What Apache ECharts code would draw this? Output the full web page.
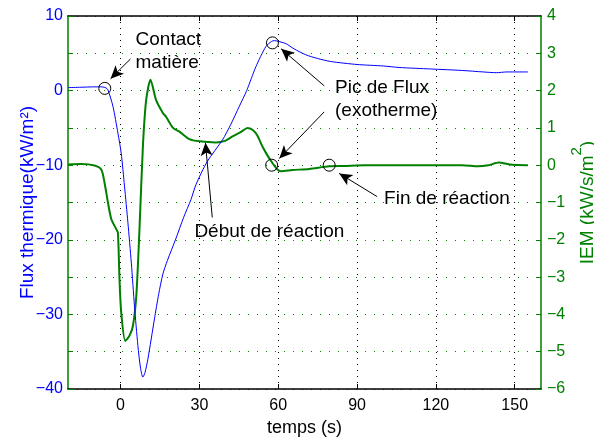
<!DOCTYPE html>
<html>
<head>
<meta charset="utf-8">
<script src="https://cdn.jsdelivr.net/npm/echarts@6/dist/echarts.min.js"></script>
<style>
  html, body { margin: 0; padding: 0; background: #fff; }
  #chart { width: 594px; height: 440px; }
</style>
</head>
<body>
<div id="chart"></div>
<script>
// flux thermique (left axis, kW/m2)
var fluxT = [-20, -15, -10, -7, -5.5, -4.8, -2.9, -1.0, 0.25, 1.5, 2.8, 4.1, 5.3, 6.6, 7.6, 8.5, 9.3, 10.4, 12.9, 14.5, 16.1, 17.8, 21, 24, 26.8, 28.7, 33, 38.8, 42, 45.2, 48, 51.5, 55.3, 57.5, 58.5, 60, 62.9, 66, 70.5, 75, 80, 90, 100, 106, 118, 130, 138, 143, 147, 155];
var fluxV = [0.4, 0.45, 0.5, 0.5, 0.35, 0.1, -2.1, -5.7, -8.4, -12.8, -17.7, -23.1, -28.9, -34.2, -37.2, -38.4, -37.8, -36, -30.6, -27.3, -24.6, -22.8, -19.9, -17, -14.6, -12.6, -9.5, -6.6, -4.5, -2.1, 0, 3.2, 5.9, 6.6, 6.7, 6.6, 6.3, 5.6, 4.8, 4.3, 3.9, 3.5, 3.3, 3.1, 2.9, 2.7, 2.5, 2.4, 2.5, 2.5];

// IEM (right axis, kW/s/m2)
var iemT = [-20, -15, -9.9, -7.3, -6.1, -4.8, -3.5, -1.6, -1.0, -0.4, 0.25, 1.8, 3.4, 4.7, 6.0, 7.2, 8.5, 9.75, 11.4, 13.5, 16.1, 17.3, 20, 22.4, 26.2, 30, 36.3, 40, 42.6, 46, 48.3, 50.2, 52, 54, 56, 57.8, 59.5, 61, 65.4, 71.8, 79.4, 85, 93, 106, 118, 130, 136, 140, 144, 148, 155];
var iemV = [0.02, 0.03, -0.01, -0.12, -0.47, -1.0, -1.45, -1.72, -1.81, -3.06, -3.95, -4.71, -4.57, -4.31, -3.5, -1.72, 0.5, 1.75, 2.29, 1.75, 1.4, 1.3, 1.0, 0.9, 0.7, 0.64, 0.61, 0.66, 0.77, 0.9, 1.0, 0.95, 0.8, 0.5, 0.25, 0.06, -0.1, -0.16, -0.13, -0.1, -0.03, -0.02, 0, 0, 0, 0, -0.03, 0, 0.07, 0.02, 0];

// tick labels
var xTicks = [0, 30, 60, 90, 120, 150];
var leftTicks = [10, 0, -10, -20, -30, -40];
var rightTicks = [4, 3, 2, 1, 0, -1, -2, -3, -4, -5, -6];

// annotations: circles, arrows and texts (data coordinates)
var fluxCircles = [[-6, 0.3], [57.8, 6.4]];
var iemCircles = [[57.5, 0], [79.4, 0]];
var fluxArrows = [[[3.8, 4.25], [-3.8, 1.6]], [[77.5, 0.64], [61.1, 5.6]], [[34.9, -17], [32.3, -7.0]]];
var iemArrows = [[[77.5, 1.43], [60.4, 0.18]], [[97.6, -0.84], [83.2, -0.22]]];
var fluxTexts = [[5.7, 5.3, 'Contact\nmatière'], [81.6, -1.1, 'Pic de Flux\n(exotherme)'], [28.1, -18.9, 'Début de réaction']];
var iemTexts = [[100.3, -0.89, 'Fin de réaction']];

var FONT = 'Liberation Sans';
var BLUE = '#0000ff';
var GREEN = '#008000';

function minus(v) { return String(v).replace('-', '\u2212'); }
function pairs(xs, ys) { return xs.map(function (x, i) { return [x, ys[i]]; }); }

function markPoints(circles, texts) {
  var d = circles.map(function (c) {
    return {
      coord: c, symbol: 'circle', symbolSize: 12,
      itemStyle: { color: 'rgba(0,0,0,0)', borderColor: '#000', borderWidth: 1 },
      label: { show: false }
    };
  });
  texts.forEach(function (t) {
    d.push({
      coord: [t[0], t[1]], symbol: 'circle', symbolSize: 0,
      itemStyle: { color: 'rgba(0,0,0,0)' },
      label: {
        show: true, position: 'inside', align: 'left', verticalAlign: 'middle',
        formatter: t[2], color: '#000', fontFamily: FONT, fontSize: 19, lineHeight: 23
      }
    });
  });
  return { silent: true, animation: false, data: d };
}

function markLines(arrows) {
  return {
    silent: true, animation: false,
    symbol: ['none', 'arrow'], symbolSize: [9, 13],
    lineStyle: { color: '#000', width: 1, type: 'solid' },
    label: { show: false },
    data: arrows.map(function (a) { return [{ coord: a[0] }, { coord: a[1] }]; })
  };
}

var chart = echarts.init(document.getElementById('chart'));
var option = {
  animation: false,
  backgroundColor: '#fff',
  grid: { left: 68, right: 53, top: 16, bottom: 51, containLabel: false, outerBoundsMode: 'none' },
  xAxis: [{
    type: 'value', min: -20, max: 160, interval: 10,
    name: 'temps (s)', nameLocation: 'middle', nameGap: 30, nameMoveOverlap: false,
    nameTextStyle: { color: '#000', fontFamily: FONT, fontSize: 18 },
    axisLine: { onZero: false, lineStyle: { color: '#000', width: 1.5 } },
    axisTick: { inside: true, length: 5, customValues: xTicks, lineStyle: { color: '#000' } },
    axisLabel: {
      color: '#000', fontFamily: FONT, fontSize: 16, margin: 9, customValues: xTicks,
      formatter: function (v) { return minus(v); }
    },
    splitLine: { show: true, lineStyle: { color: '#000', type: [1, 5], width: 1 } }
  }, {
    type: 'value', min: -20, max: 160, interval: 10, position: 'top',
    axisLine: { onZero: false, lineStyle: { color: '#000', width: 1.5 } },
    axisTick: { inside: true, length: 5, customValues: xTicks, lineStyle: { color: '#000' } },
    axisLabel: { show: false }, splitLine: { show: false }
  }],
  yAxis: [{
    type: 'value', min: -40, max: 10, interval: 10, position: 'left',
    name: 'Flux thermique(kW/m\u00b2)', nameLocation: 'middle', nameGap: 31, nameMoveOverlap: false,
    nameTextStyle: { color: BLUE, fontFamily: FONT, fontSize: 19 },
    axisLine: { show: true, onZero: false, lineStyle: { color: GREEN, width: 1.5 } },
    axisTick: { show: true, inside: true, length: 5, lineStyle: { color: GREEN } },
    minorTick: { show: true, splitNumber: 2, length: 5, lineStyle: { color: GREEN } },
    axisLabel: {
      color: BLUE, fontFamily: FONT, fontSize: 16, margin: 5,
      formatter: function (v) { return leftTicks.indexOf(v) >= 0 ? minus(v) : ''; }
    },
    splitLine: { show: false }
  }, {
    type: 'value', min: -6, max: 4, interval: 1, position: 'right',
    name: '{a|IEM (kW/s/m}{b|2}{a|)}', nameLocation: 'middle', nameGap: 28, nameMoveOverlap: false,
    nameTextStyle: {
      color: GREEN, fontFamily: FONT, fontSize: 19,
      rich: {
        a: { color: GREEN, fontFamily: FONT, fontSize: 19, lineHeight: 28, verticalAlign: 'bottom' },
        b: { color: GREEN, fontFamily: FONT, fontSize: 15, lineHeight: 28, verticalAlign: 'top' }
      }
    },
    axisLine: { show: true, onZero: false, lineStyle: { color: GREEN, width: 1.5 } },
    axisTick: { show: true, inside: true, length: 5, lineStyle: { color: GREEN } },
    axisLabel: {
      color: GREEN, fontFamily: FONT, fontSize: 16, margin: 6,
      formatter: function (v) { return rightTicks.indexOf(v) >= 0 ? minus(v) : ''; }
    },
    splitLine: { show: true, lineStyle: { color: GREEN, type: [1, 8], width: 1 } }
  }],
  series: [{
    name: 'Flux', type: 'line', xAxisIndex: 0, yAxisIndex: 0,
    data: pairs(fluxT, fluxV), showSymbol: false, smooth: 0.25,
    lineStyle: { color: BLUE, width: 1 }, z: 3,
    markPoint: markPoints(fluxCircles, fluxTexts),
    markLine: markLines(fluxArrows)
  }, {
    name: 'IEM', type: 'line', xAxisIndex: 0, yAxisIndex: 1,
    data: pairs(iemT, iemV), showSymbol: false, smooth: 0.25,
    lineStyle: { color: GREEN, width: 2 }, z: 2,
    markPoint: markPoints(iemCircles, iemTexts),
    markLine: markLines(iemArrows)
  }]
};
chart.setOption(option);
</script>
</body>
</html>
